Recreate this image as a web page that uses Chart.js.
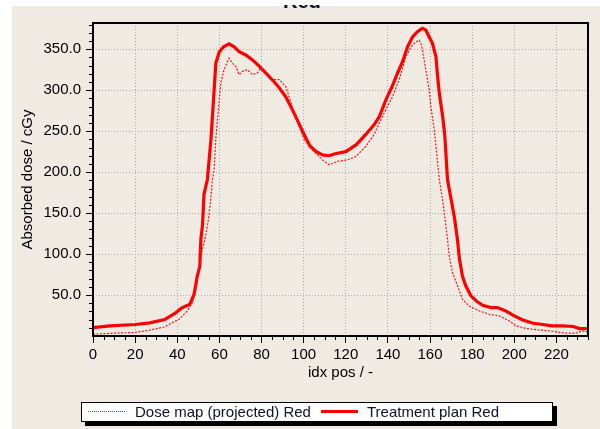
<!DOCTYPE html>
<html>
<head>
<meta charset="utf-8">
<script src="https://cdn.jsdelivr.net/npm/chart.js@4.4.1/dist/chart.umd.min.js"></script>
<style>
  html, body { margin: 0; padding: 0; background: #ffffff; }
  #wrap { position: relative; width: 600px; height: 429px; overflow: hidden; background: #ffffff; }
  #bg { position: absolute; left: 12px; top: 6px; right: 0; bottom: 0; background: #efebe3; }
  #title { position: absolute; left: 283px; top: -9px; font: bold 20px "Liberation Sans", Arial, sans-serif; line-height: 20px; color: #101020; white-space: nowrap; }
  #cover { position: absolute; left: 0; top: 0; width: 600px; height: 5px; background: #ffffff; }
  canvas { position: absolute; left: 0; top: 0; }
  #legend { position: absolute; left: 81px; top: 402px; width: 470px; height: 18px; background: #fff; border: 1px solid #000; box-shadow: 4px 4px 0 #000; font: 15px "Liberation Sans", Arial, sans-serif; color: #10102a; }
  .lg-txt { position: absolute; top: 0; line-height: 18px; white-space: nowrap; }
  .lg-dot { position: absolute; top: 8px; width: 37px; height: 0; border-top: 1px dotted #ff2020; }
  .lg-sol { position: absolute; top: 7px; width: 37px; height: 3px; background: #ff0000; }
</style>
</head>
<body>
<div id="wrap">
  <div id="bg"></div>
  <div id="title">Red</div>
  <div id="cover"></div>
  <canvas id="c" width="600" height="429"></canvas>
  <div id="legend">
    <div class="lg-dot" style="left:6px"></div>
    <div class="lg-txt" style="left:53px">Dose map (projected) Red</div>
    <div class="lg-sol" style="left:239px"></div>
    <div class="lg-txt" style="left:285px">Treatment plan Red</div>
  </div>
</div>
<script>
// ---- data ----
const planIdx  = [0, 8, 20, 27, 34, 39, 42, 46, 48, 49.5, 50.7, 51.2, 52, 52.7, 54.3, 56, 57.5, 58.3, 60, 62,
                  64.6, 67, 69.4, 72.5, 75.7, 79, 82, 85, 88.4, 91.5, 94.7, 98, 101, 103, 106, 109, 112, 115, 120, 125,
                  129.5, 133.5, 136, 139, 142, 144.6, 147, 149.3, 151.7, 154, 156.4, 158, 159.6, 161.2, 162.8, 163.6, 164.4, 166, 167, 168.3,
                  170, 171.5, 173, 174, 175.4, 177, 179.4, 182, 185, 189, 192, 196, 200, 204, 209, 213.5, 218, 223, 228, 231, 235];
const planDose = [10.3, 12.3, 14, 16, 20, 27.8, 34, 38.7, 51, 73, 85, 118, 136, 173, 191, 240, 300, 333, 347, 353,
                  356.5, 353, 347, 343, 337, 329, 321, 313, 303, 292, 276, 258, 242, 232, 225, 221, 220, 222.5, 225, 233.5,
                  246, 258, 268, 288, 304.5, 321, 335, 353, 365, 371.5, 375.6, 373.5, 365, 357, 341, 316.7, 296.5, 268, 245, 191,
                  167, 146, 118, 93.5, 73, 61, 49, 42.7, 37.5, 34.7, 34.7, 30.6, 24.5, 19.6, 15.6, 14, 12.3, 12.3, 11.6, 9.1, 9.1];

const mapIdx  = [0, 10, 20, 26.6, 33.7, 39, 40.9, 44.8, 47.2, 48.8, 50.4, 51.9, 53.5, 54.8, 55.9, 56.7, 57.5, 58.3, 59.5, 60.7,
                 62.2, 64.6, 66.2, 67.8, 69.4, 70.9, 73.3, 75.7, 78, 79.7, 82, 85.2, 88.4, 91.5, 93.1, 95.5, 97.9, 100.2, 104.2, 108.9,
                 112.1, 116, 120.8, 124.8, 129.5, 133.5, 135.9, 139, 142.2, 145.4, 148.6, 151, 153.3, 154.9, 155.7, 156.4, 158, 159.6, 160.4, 162,
                 164.4, 165.9, 167.2, 168.3, 169.1, 170.7, 173.1, 175.4, 178.6, 183.4, 188.1, 192.9, 197.6, 200.8, 205.6, 211.9, 218.2, 224.6, 229.3, 232.4, 234.7];
const mapDose = [2.2, 3.5, 4.3, 7, 11, 18, 20.5, 30.6, 40.8, 57, 81, 105.7, 122, 142, 167, 191, 203, 240, 276, 308.7,
                 325, 339, 333, 329, 319, 323, 325, 319, 321, 327, 321, 313, 313, 304.5, 292, 272, 256, 240, 227, 215,
                 209, 213, 215, 219, 231.5, 246, 260, 276, 292, 313, 341, 353, 359, 361, 357, 349, 325, 300.5, 280, 252,
                 191, 167, 142, 118, 97.5, 77, 61, 44.8, 36.6, 30.6, 26.5, 24.5, 18.4, 12.3, 9.1, 7.4, 5.8, 3.4, 3.4, 6.2, 5];

const xTicks = [0, 20, 40, 60, 80, 100, 120, 140, 160, 180, 200, 220];
const yTicks = [50, 100, 150, 200, 250, 300, 350];
const seriesNames = ['Dose map (projected) Red', 'Treatment plan Red'];
const xTitle = 'idx pos / -';
const yTitle = 'Absorbed dose / cGy';

const toPts = (xs, ys) => xs.map((x, i) => ({x: x, y: ys[i]}));
const FONT = {family: '"Liberation Sans", Arial, sans-serif', size: 15};

const frame = {
  id: 'frame',
  afterDraw(chart) {
    const {ctx, chartArea: a, scales} = chart;
    ctx.save();
    ctx.strokeStyle = '#000';
    ctx.lineWidth = 1;
    ctx.beginPath();
    const xs = scales.x, ys = scales.y;
    for (let v = 5; v <= xs.max; v += 5) {
      if (v % 20 === 0) continue;
      const p = Math.round(xs.getPixelForValue(v)) + 0.5;
      ctx.moveTo(p, a.bottom); ctx.lineTo(p, a.bottom + 4);
    }
    for (let v = 10; v <= ys.max; v += 10) {
      if (v % 50 === 0) continue;
      const p = Math.round(ys.getPixelForValue(v)) + 0.5;
      ctx.moveTo(a.left - 4, p); ctx.lineTo(a.left, p);
    }
    ctx.stroke();
    ctx.lineWidth = 2;
    ctx.strokeRect(a.left, a.top, a.right - a.left, a.bottom - a.top);
    ctx.restore();
  }
};

new Chart(document.getElementById('c'), {
  type: 'line',
  data: {
    datasets: [
      {label: seriesNames[0], data: toPts(mapIdx, mapDose), borderColor: '#ff1010', borderWidth: 1.2,
       borderDash: [2, 1.5], pointRadius: 0, tension: 0, fill: false},
      {label: seriesNames[1], data: toPts(planIdx, planDose), borderColor: '#ff0000', borderWidth: 3.2,
       pointRadius: 0, tension: 0, fill: false}
    ]
  },
  options: {
    responsive: false,
    animation: false,
    devicePixelRatio: 1,
    layout: {padding: {left: 19, right: 12, top: 23, bottom: 47}},
    plugins: {legend: {display: false}, tooltip: {enabled: false}},
    scales: {
      x: {
        type: 'linear', min: 0, max: 235,
        afterBuildTicks: s => { s.ticks = xTicks.map(v => ({value: v})); },
        afterFit: s => { s.height = 46; },
        grid: {color: '#a8a8a8', tickColor: '#000', tickLength: 7, lineWidth: 1},
        border: {display: false, dash: [1, 2]},
        ticks: {color: '#000', font: FONT, padding: 3, maxRotation: 0, autoSkip: false},
        title: {display: true, text: xTitle, color: '#000', font: FONT, padding: 0}
      },
      y: {
        type: 'linear', min: 0, max: 382,
        afterBuildTicks: s => { s.ticks = yTicks.map(v => ({value: v})); },
        afterFit: s => { s.width = 74; },
        grid: {color: '#a8a8a8', tickColor: '#000', tickLength: 7, lineWidth: 1},
        border: {display: false, dash: [1, 2]},
        ticks: {color: '#000', font: FONT, padding: 5, callback: v => v.toFixed(1)},
        title: {display: true, text: yTitle, color: '#000', font: FONT, padding: 0}
      }
    }
  },
  plugins: [frame]
});
</script>
</body>
</html>
